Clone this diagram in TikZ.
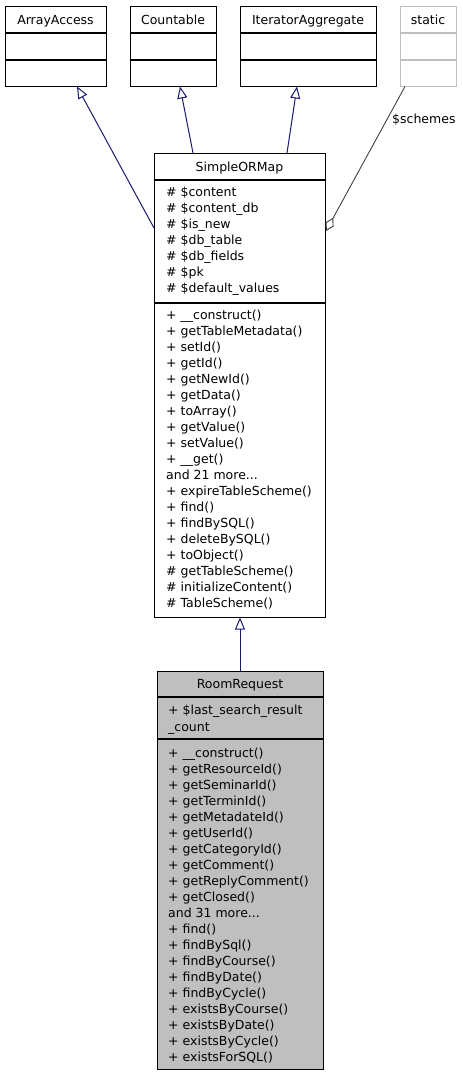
\documentclass[tikz,border=0pt]{standalone}
\usepackage{fontspec}
\setmainfont{DejaVu Sans}
\usetikzlibrary{arrows.meta}
\definecolor{edgeblue}{HTML}{191970}
\definecolor{memgray}{HTML}{404040}
\definecolor{boxgray}{HTML}{BFBFBF}
\newcommand\mydots{.{}.{}.}
\begin{document}
\begin{tikzpicture}[x=1pt,y=-1pt,font=\fontsize{12.5}{15}\selectfont,
  box/.style={draw=black,line width=1pt,inner sep=0pt,outer sep=0pt,anchor=north west},
  div/.style={line width=1.4pt},
  ttl/.style={inner sep=0pt,text height=9pt,text depth=0pt},
  mem/.style={ttl,anchor=west},
  inh/.style={draw=edgeblue,line width=1pt,-{Triangle[open,length=12pt,width=10pt]}},
  assoc/.style={draw=memgray,line width=0.9pt,-{Diamond[open,length=15pt,width=9pt]}}]
\useasboundingbox (0,0) rectangle (463,1077);
% top boxes
\node[box,minimum width=101pt,minimum height=80pt] (aa) at (5,6) {};
\draw[div] (5,33) -- (106,33) (5,60) -- (106,60);
\node[ttl] (aa-t) at (55.5,19.5) {ArrayAccess};
\node[box,minimum width=86pt,minimum height=80pt] (cnt) at (130,6) {};
\draw[div] (130,33) -- (216,33) (130,60) -- (216,60);
\node[ttl] (cnt-t) at (173,19.5) {Countable};
\node[box,minimum width=136pt,minimum height=80pt] (ia) at (240,6) {};
\draw[div] (240,33) -- (376,33) (240,60) -- (376,60);
\node[ttl] (ia-t) at (308,19.5) {IteratorAggregate};
\node[box,draw=boxgray,minimum width=56pt,minimum height=80pt] (st) at (400,6) {};
\draw[div,draw=boxgray] (400,33) -- (456,33) (400,60) -- (456,60);
\node[ttl] (st-t) at (428,19.5) {static};
% SimpleORMap
\node[box,minimum width=171pt,minimum height=464pt] (sorm) at (154,153) {};
\draw[div] (154,180) -- (325,180) (154,303) -- (325,303);
\node[ttl] (sorm-t) at (239.5,167) {SimpleORMap};
\foreach \t [count=\i from 0] in {\# \$content,\# \$content\_db,\# \$is\_new,\# \$db\_table,\# \$db\_fields,\# \$pk,\# \$default\_values}
  \node[mem] at (166,{192+16*\i}) {\t};
\foreach \t [count=\i from 0] in {+ \_\_construct(),+ getTableMetadata(),+ setId(),+ getId(),+ getNewId(),+ getData(),+ toArray(),+ getValue(),+ setValue(),+ \_\_get(),and 21 more\mydots,+ expireTableScheme(),+ find(),+ findBySQL(),+ deleteBySQL(),+ toObject(),\# getTableScheme(),\# initializeContent(),\# TableScheme()}
  \node[mem] at (166,{315+16*\i}) {\t};
% RoomRequest
\node[box,fill=boxgray,minimum width=166pt,minimum height=398pt] (rr) at (157,671) {};
\draw[div] (157,697) -- (323,697) (157,739) -- (323,739);
\node[ttl] (rr-t) at (240,684) {RoomRequest};
\node[mem] at (168,710) {+ \$last\_search\_result};
\node[mem] at (168,727) {\_count};
\foreach \t [count=\i from 0] in {+ \_\_construct(),+ getResourceId(),+ getSeminarId(),+ getTerminId(),+ getMetadateId(),+ getUserId(),+ getCategoryId(),+ getComment(),+ getReplyComment(),+ getClosed(),and 31 more\mydots,+ find(),+ findBySql(),+ findByCourse(),+ findByDate(),+ findByCycle(),+ existsByCourse(),+ existsByDate(),+ existsByCycle(),+ existsForSQL()}
  \node[mem] at (168,{753+16*\i}) {\t};
% connectors
\coordinate (aa-in) at (154,228);
\coordinate (aa-tip) at (77,86.5);
\coordinate (cnt-in) at (193,153);
\coordinate (cnt-tip) at (180,86.5);
\coordinate (ia-in) at (287,153);
\coordinate (ia-tip) at (297,86.5);
\coordinate (rr-in) at (240,671);
\coordinate (rr-tip) at (240,617.5);
\coordinate (st-out) at (405,86.5);
\coordinate (st-tip) at (326,231);
\draw[inh] (aa-in) -- (aa-tip);
\draw[inh] (cnt-in) -- (cnt-tip);
\draw[inh] (ia-in) -- (ia-tip);
\draw[inh] (rr-in) -- (rr-tip);
\draw[assoc] (st-out) -- (st-tip);
\node[mem] (schemes) at (392,119) {\$schemes};
\end{tikzpicture}
\end{document}
